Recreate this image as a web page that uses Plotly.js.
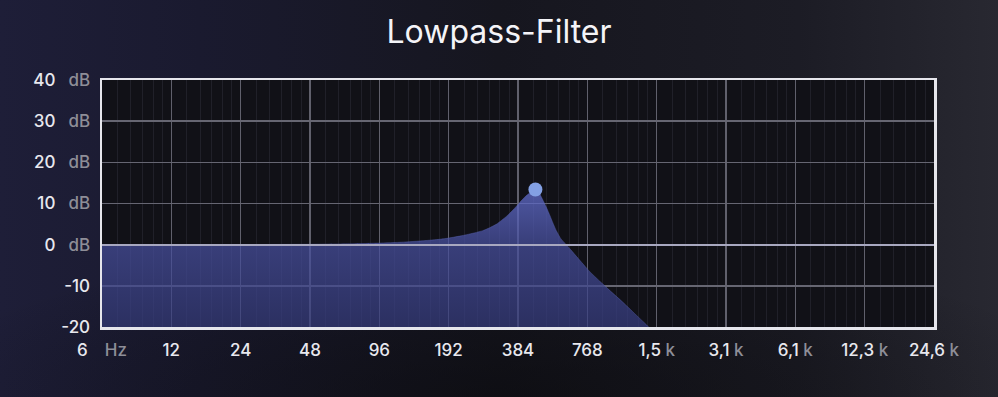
<!DOCTYPE html>
<html>
<head>
<meta charset="utf-8">
<script src="https://cdn.plot.ly/plotly-3.0.1.min.js"></script>
<style>
html, body { margin: 0; padding: 0; width: 998px; height: 397px; overflow: hidden; }
body {
  background:
    radial-gradient(ellipse 60% 40% at 50% 100%, rgba(8,8,10,0.55) 0%, rgba(8,8,10,0) 100%),
    linear-gradient(90deg, #1e1e38 0%, #1a1a2f 20%, #16161f 50%, #1c1c25 80%, #282831 100%);
}
#chart { width: 998px; height: 397px; }
</style>
</head>
<body>
<div id="chart"></div>
<script>
// ---- data ----
const freqHz = [6, 12, 24, 48, 72, 96, 120, 150, 175, 192, 220, 250, 270, 289, 310, 341, 365, 390, 415, 440, 457, 476, 490, 509, 530, 545, 563, 590, 622, 650, 700, 785, 870, 960, 1096, 1230, 1383, 1450];
const gainDb = [0, 0, 0.02, 0.09, 0.2, 0.38, 0.6, 0.96, 1.3, 1.6, 2.2, 2.9, 3.4, 4.1, 5.0, 6.8, 8.4, 10.2, 11.8, 12.9, 13.4, 12.4, 11.1, 9.2, 6.9, 5.2, 3.4, 1.4, 0, -1.2, -3.3, -6.5, -8.9, -11.1, -14.0, -16.7, -19.4, -20.6];
const peakFreq = [457];
const peakGain = [13.4];

const xTickVals  = [6, 12, 24, 48, 96, 192, 384, 768, 1536, 3072, 6144, 12288, 24576];
const xTickNums  = ['6', '12', '24', '48', '96', '192', '384', '768', '1,5', '3,1', '6,1', '12,3', '24,6'];
const xTickUnits = ['Hz', '', '', '', '', '', '', '', 'k', 'k', 'k', 'k', 'k'];
const yTickVals  = [-20, -10, 0, 10, 20, 30, 40];
const yTickNums  = ['-20', '-10', '0', '10', '20', '30', '40'];
const yTickUnits = ['', '', 'dB', 'dB', 'dB', 'dB', 'dB'];
const yRange = [-20, 40];
const titleText = 'Lowpass-Filter';

// ---- styling helpers ----
const NUM_COLOR = '#e8e8ee';
const UNIT_COLOR = '#8e8e98';
const unit = u => `<span style="color:${UNIT_COLOR}">${u}</span>`;
const xTickText = xTickNums.map((n, i) =>
  xTickUnits[i] === '' ? n : (xTickUnits[i] === 'Hz' ? n + '\u2002\u2002' + unit(xTickUnits[i]) : n + ' ' + unit(xTickUnits[i])));
const yTickText = yTickNums.map((n, i) =>
  yTickUnits[i] === '' ? n : n + '\u2002 ' + unit(yTickUnits[i]));

// minor grid: subdivisions inside each octave
const minorVals = [];
for (let i = 0; i < xTickVals.length - 1; i++) {
  for (let k = 1; k <= 5; k++) minorVals.push(xTickVals[i] * (1 + k / 6));
}

const baseline = {
  x: [freqHz[0], freqHz[freqHz.length - 1]],
  y: [yRange[0], yRange[0]],
  mode: 'lines', line: { width: 0 }, hoverinfo: 'skip', showlegend: false
};
const curve = {
  x: freqHz, y: gainDb,
  mode: 'lines',
  line: { width: 0.5, color: 'rgba(90,100,180,0.8)', shape: 'spline', smoothing: 0.4 },
  fill: 'tonexty',
  fillcolor: 'rgba(70,78,150,0.7)',
  fillgradient: {
    type: 'vertical',
    start: yRange[0], stop: peakGain[0],
    colorscale: [[0, 'rgba(54,60,126,0.72)'], [0.6, 'rgba(72,80,160,0.72)'], [1, 'rgba(100,112,210,0.75)']]
  },
  hoverinfo: 'skip', showlegend: false
};
const peak = {
  x: peakFreq, y: peakGain,
  mode: 'markers',
  marker: { size: 14, color: '#83a0e4', line: { width: 0 } },
  showlegend: false
};

const FONT = 'Inter, "Noto Sans", sans-serif';
const layout = {
  width: 998, height: 397,
  margin: { l: 102, r: 64, t: 80, b: 70 },
  paper_bgcolor: 'rgba(0,0,0,0)',
  plot_bgcolor: '#111117',
  font: { family: FONT, color: NUM_COLOR, size: 17 },
  title: {
    text: titleText,
    font: { family: FONT, size: 32, color: '#f4f4f8' },
    x: 0.5, xanchor: 'center', xref: 'container',
    y: 0.92, yanchor: 'middle', yref: 'container'
  },
  xaxis: {
    type: 'log',
    range: [Math.log10(xTickVals[0]), Math.log10(xTickVals[xTickVals.length - 1])],
    tickmode: 'array', tickvals: xTickVals, ticktext: xTickText,
    showgrid: true, gridcolor: '#60606c', gridwidth: 1.5,
    minor: { tickvals: minorVals, showgrid: true, gridcolor: '#202029', gridwidth: 1, ticks: '' },
    showline: true, mirror: true, linecolor: '#e6e6ec', linewidth: 2.5,
    ticks: '', ticklabelstandoff: 6,
    zeroline: false, fixedrange: true,
    tickfont: { family: FONT, size: 17, weight: 500, color: NUM_COLOR }
  },
  yaxis: {
    range: yRange,
    tickmode: 'array', tickvals: yTickVals, ticktext: yTickText,
    showgrid: true, gridcolor: '#666672', gridwidth: 1.5,
    zeroline: true, zerolinecolor: '#a8a8c0', zerolinewidth: 2, zerolinelayer: 'above traces',
    showline: true, mirror: true, linecolor: '#e6e6ec', linewidth: 2.5,
    ticks: '', ticklabelstandoff: 6, fixedrange: true,
    tickfont: { family: FONT, size: 17, weight: 500, color: NUM_COLOR }
  },
  showlegend: false
};

Plotly.newPlot('chart', [baseline, curve, peak], layout, { displayModeBar: false, staticPlot: true });
</script>
</body>
</html>
